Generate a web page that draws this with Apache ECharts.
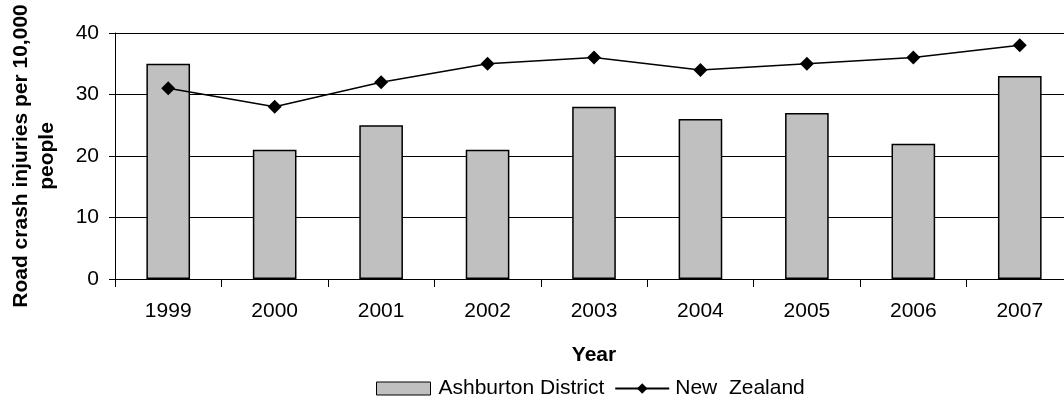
<!DOCTYPE html>
<html><head><meta charset="utf-8">
<script src="https://cdn.jsdelivr.net/npm/echarts@6/dist/echarts.min.js"></script>
<style>html,body{margin:0;padding:0;background:#fff}#c{width:1064px;height:401px}</style>
</head><body><div id="c"></div>
<script>
const years = ['1999','2000','2001','2002','2003','2004','2005','2006','2007'];
const ashburton = [35, 21, 25, 21, 28, 26, 27, 22, 33];
const newZealand = [31, 28, 32, 35, 36, 34, 35, 36, 38];
const yTicks = [0, 10, 20, 30, 40];

const chart = echarts.init(document.getElementById('c'));
const font = 'Liberation Sans, Arial, sans-serif';
chart.setOption({
  animation: false,
  textStyle: {fontFamily: font},
  grid: {left: 115, right: -9, top: 33, bottom: 122, outerBoundsMode: 'none', containLabel: false},
  legend: {
    top: 378, left: 376, itemGap: 10, padding: 0,
    textStyle: {fontSize: 21, color: '#000', fontFamily: font},
    data: [
      {name: 'Ashburton District', icon: 'rect', itemStyle: {color: '#c0c0c0', borderColor: '#000', borderWidth: 1},
       textStyle: {padding: [0, 0, 0, 3]}},
      {name: 'New Zealand', textStyle: {padding: [0, 0, 0, 1]}}
    ],
    formatter: n => n === 'New Zealand' ? 'New  Zealand' : n,
    itemWidth: 54, itemHeight: 13
  },
  xAxis: {
    type: 'category', data: years,
    name: 'Year', nameLocation: 'middle', nameGap: 66,
    nameTextStyle: {fontSize: 21, fontWeight: 'bold', color: '#000'},
    axisLine: {lineStyle: {color: '#000', width: 1}},
    axisTick: {show: true, length: 8, inside: false, lineStyle: {color: '#000'}},
    axisLabel: {fontSize: 21, color: '#000', margin: 22}
  },
  yAxis: {
    type: 'value', min: 0, max: 40, interval: 10,
    name: 'Road crash injuries per 10,000\npeople', nameLocation: 'middle', nameGap: 55,
    nameTextStyle: {fontSize: 21, fontWeight: 'bold', color: '#000', lineHeight: 26},
    axisLine: {show: true, lineStyle: {color: '#000'}},
    axisTick: {show: true, length: 6, lineStyle: {color: '#000'}},
    axisLabel: {fontSize: 21, color: '#000', margin: 16, formatter: v => yTicks.includes(v) ? String(v) : ''},
    splitLine: {show: true, lineStyle: {color: '#000', width: 1}}
  },
  series: [
    {
      name: 'Ashburton District', type: 'bar', data: ashburton, barWidth: '41%',
      itemStyle: {color: '#c0c0c0', borderColor: '#000', borderWidth: 1.5}
    },
    {
      name: 'New Zealand', type: 'line', data: newZealand,
      symbol: 'diamond', symbolSize: 14,
      lineStyle: {color: '#000', width: 1.5},
      itemStyle: {color: '#000'}
    }
  ]
});
</script></body></html>
